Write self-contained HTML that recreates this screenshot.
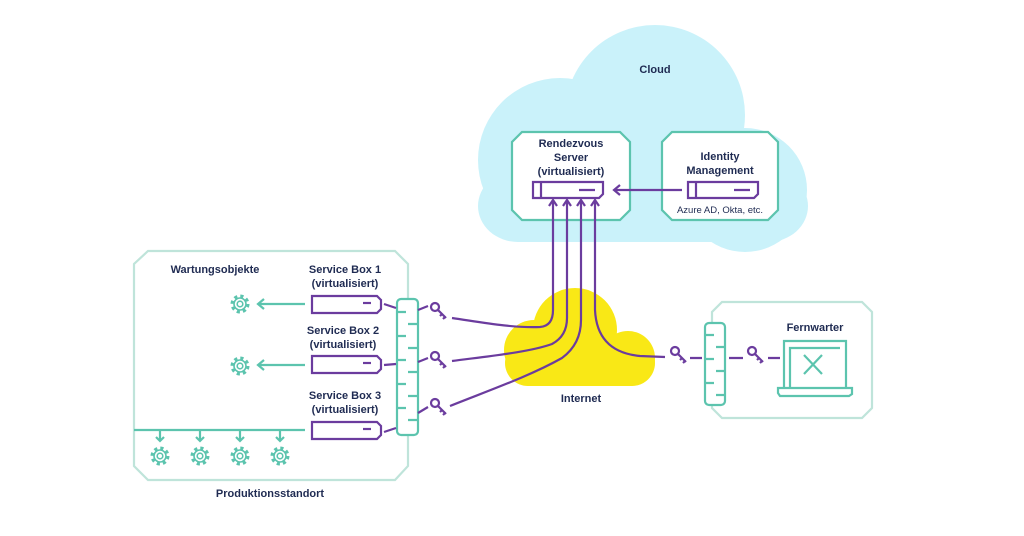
<!DOCTYPE html>
<html><head><meta charset="utf-8"><style>
html,body{margin:0;padding:0;background:#fff;}
svg{display:block}
text{font-family:"Liberation Sans",sans-serif;font-weight:bold;fill:#1f2b52;font-size:11px;text-anchor:middle}
</style></head><body>
<svg width="1024" height="536" viewBox="0 0 1024 536" xmlns="http://www.w3.org/2000/svg">
<defs>
<g id="gear" fill="none" stroke="#5cc4ae" stroke-width="1.6">
<circle r="7.5" stroke-width="4" stroke-dasharray="3 2.9"/>
<circle r="6" fill="#fff"/>
<circle r="2.8"/>
</g>
<g id="key" fill="none" stroke="#6b3c9e" stroke-width="2.2">
<circle cx="-3" cy="-4" r="4"/>
<path d="M0 -1 L8 7 M4 3 L2 5 M7 6 L5 8"/>
</g>
<g id="srv" fill="none" stroke="#6b3c9e" stroke-width="2.2">
<path d="M1 0 H66 L70 4 V13 L66 17 H1 Z"/>
<path d="M52 7 H60"/>
</g>
<g id="srv2" fill="none" stroke="#6b3c9e" stroke-width="2.2">
<path d="M0 0 H70 V12 L66 16 H0 Z"/>
<path d="M8 0 V16 M46 8 H62"/>
</g>
</defs>

<!-- Cloud -->
<g fill="#caf2fa">
<circle cx="655" cy="115" r="90"/>
<circle cx="560" cy="160" r="82"/>
<circle cx="745" cy="190" r="62"/>
<rect x="478" y="170" width="330" height="72" rx="40"/>
<rect x="520" y="140" width="230" height="102"/>
</g>
<text x="655" y="73">Cloud</text>

<!-- Rendezvous -->
<path d="M522 132 H620 L630 142 V210 L620 220 H522 L512 210 V142 Z" fill="#fff" stroke="#5cc4ae" stroke-width="2.2"/>
<text x="571" y="147">Rendezvous</text>
<text x="571" y="161">Server</text>
<text x="571" y="175">(virtualisiert)</text>
<use href="#srv2" x="533" y="182"/>
<!-- Identity -->
<path d="M672 132 H768 L778 142 V210 L768 220 H672 L662 210 V142 Z" fill="#fff" stroke="#5cc4ae" stroke-width="2.2"/>
<text x="720" y="160">Identity</text>
<text x="720" y="174">Management</text>
<use href="#srv2" x="688" y="182"/>
<text x="720" y="213" style="font-weight:normal;font-size:9.5px">Azure AD, Okta, etc.</text>
<path d="M682 190 H614 M620 185 L614 190 L620 195" fill="none" stroke="#6b3c9e" stroke-width="2.2"/>

<!-- Internet cloud -->
<g fill="#f9e816">
<circle cx="575" cy="330" r="42"/>
<circle cx="534" cy="350" r="30"/>
<circle cx="628" cy="358" r="27"/>
<rect x="505" y="340" width="150" height="46" rx="23"/>
</g>
<text x="581" y="402">Internet</text>

<!-- Left box -->
<path d="M148 251 H395 L408 264 V466 L395 480 H148 L134 466 V264 Z" fill="none" stroke="#bfe4da" stroke-width="2.2"/>
<text x="215" y="273">Wartungsobjekte</text>
<text x="345" y="273">Service Box 1</text>
<text x="345" y="287">(virtualisiert)</text>
<text x="343" y="334">Service Box 2</text>
<text x="343" y="348">(virtualisiert)</text>
<text x="345" y="399">Service Box 3</text>
<text x="345" y="413">(virtualisiert)</text>
<text x="270" y="497">Produktionsstandort</text>
<use href="#srv" x="311" y="296"/>
<use href="#srv" x="311" y="356"/>
<use href="#srv" x="311" y="422"/>
<g stroke="#5cc4ae" stroke-width="2.2" fill="none">
<path d="M305 304 H258 M264 299 L258 304 L264 309"/>
<path d="M305 365 H258 M264 360 L258 365 L264 370"/>
<path d="M134 430 H305"/>
<path d="M160 430 V441 M156 437 L160 441 L164 437"/>
<path d="M200 430 V441 M196 437 L200 441 L204 437"/>
<path d="M240 430 V441 M236 437 L240 441 L244 437"/>
<path d="M280 430 V441 M276 437 L280 441 L284 437"/>
<rect x="397" y="299" width="21" height="136" rx="4" fill="#fff"/>
<path d="M397 312 H406 M408 324 H418 M397 336 H406 M408 348 H418 M397 360 H406 M408 372 H418 M397 384 H406 M408 396 H418 M397 408 H406 M408 420 H418"/>
</g>
<use href="#gear" x="240" y="304"/>
<use href="#gear" x="240" y="366"/>
<use href="#gear" x="160" y="456"/>
<use href="#gear" x="200" y="456"/>
<use href="#gear" x="240" y="456"/>
<use href="#gear" x="280" y="456"/>

<!-- purple connectors -->
<g stroke="#6b3c9e" stroke-width="2.2" fill="none">
<path d="M384 304 L396 308"/>
<path d="M384 365 L396 364"/>
<path d="M384 432 L396 428"/>
<path d="M418 310 L428 306"/>
<path d="M418 362 L428 358"/>
<path d="M418 413 L428 407"/>
<path d="M452 318 C480 322 510 328 540 327 Q553 326 553 310 V200"/>
<path d="M452 361 C490 356 530 352 552 344 Q567 336 567 318 V200"/>
<path d="M450 406 C490 390 530 376 562 358 Q581 344 581 320 V200"/>
<path d="M595 200 V310 Q597 352 640 356 L665 357"/>
<path d="M549 206 L553 200 L557 206 M563 206 L567 200 L571 206 M577 206 L581 200 L585 206 M591 206 L595 200 L599 206"/>
<path d="M690 358 H702 M729 358 H743 M768 358 H780"/>
</g>
<use href="#key" x="438" y="311"/>
<use href="#key" x="438" y="360"/>
<use href="#key" x="438" y="407"/>
<use href="#key" x="678" y="355"/>
<use href="#key" x="755" y="355"/>

<!-- Right box -->
<path d="M722 302 H862 L872 312 V408 L862 418 H722 L712 408 V312 Z" fill="none" stroke="#bfe4da" stroke-width="2.2"/>
<text x="815" y="331">Fernwarter</text>
<g stroke="#5cc4ae" stroke-width="2.2" fill="none">
<rect x="705" y="323" width="20" height="82" rx="4" fill="#fff"/>
<path d="M705 335 H714 M716 347 H725 M705 359 H714 M716 371 H725 M705 383 H714 M716 395 H725"/>
<path d="M784 388 V341 H846 V388"/>
<path d="M790 388 V348 H840"/>
<path d="M778 388 H852 V394 L849 396 H780 L778 393 Z"/>
<path d="M804 355 L822 374 M822 355 L804 374"/>
</g>
</svg>
</body></html>
